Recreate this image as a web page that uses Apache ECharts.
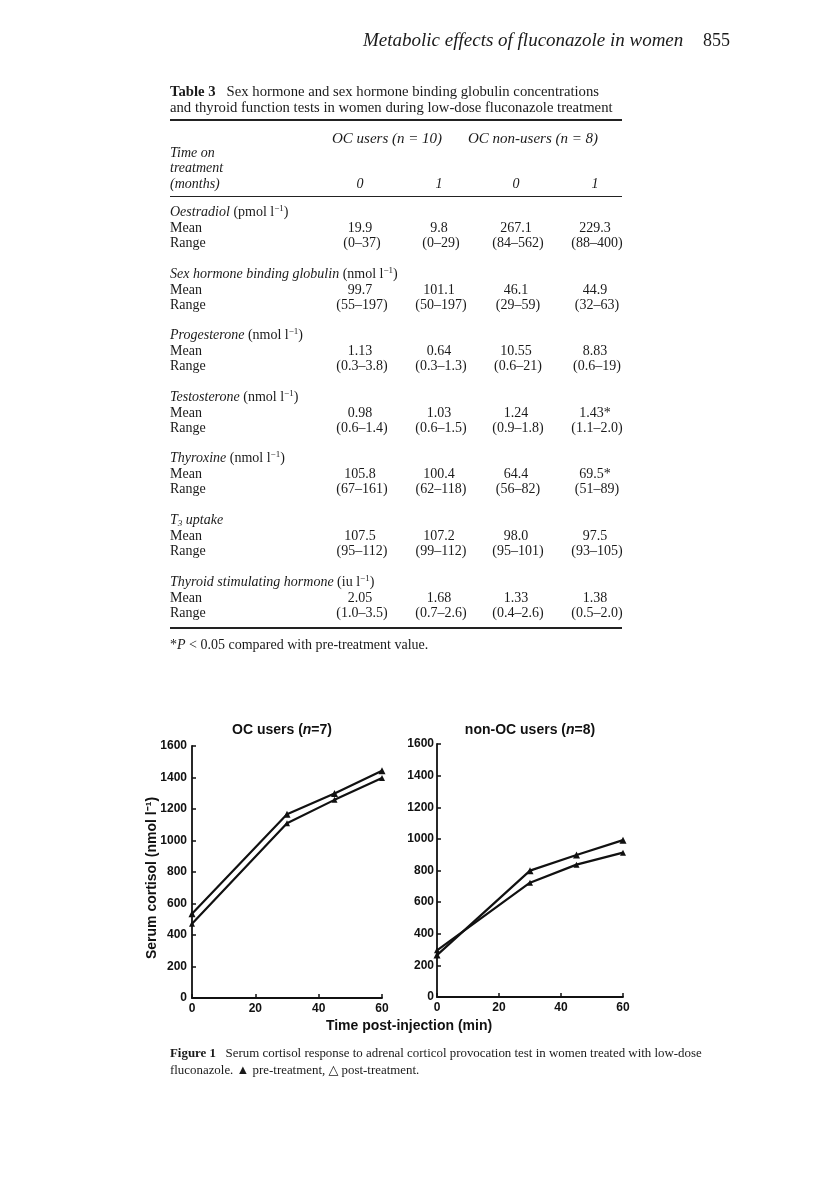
<!DOCTYPE html>
<html>
<head>
<meta charset="utf-8">
<script src="https://cdn.jsdelivr.net/npm/echarts@6/dist/echarts.min.js"></script>
<style>
html,body{margin:0;padding:0;background:#fff;}
#page{position:relative;width:816px;height:1179px;overflow:hidden;background:#fff;}
#chart{position:absolute;left:0;top:0;width:816px;height:1179px;}
.t{position:absolute;font-family:"Liberation Serif","DejaVu Serif",serif;font-size:14px;color:#1a1a1a;white-space:nowrap;line-height:16px;}
.i{font-style:italic;}
.c{transform:translateX(-50%);}
.rule{position:absolute;left:170px;width:452px;background:#222;}
sup{font-size:9px;vertical-align:5px;line-height:0;}
sub{font-size:9px;vertical-align:-2px;line-height:0;}
</style>
</head>
<body>
<div id="page">
<div id="chart"></div>
</div>
<script>
// ---- Figure data ----
const timeMin = [0, 30, 45, 60];
const ocUpper = [535, 1167, 1298, 1443];
const ocLower = [471, 1110, 1258, 1397];
const nonOcUpperEnd = [265, 799, 898, 992];
const nonOcLowerEnd = [295, 723, 837, 913];
const yTicks = [0, 200, 400, 600, 800, 1000, 1200, 1400, 1600];
const xTicks = [0, 20, 40, 60];

// ---- Table data ----
const tableSections = [
  {name: '<span class="i">Oestradiol</span> (pmol l<sup>−1</sup>)'},
  {name: '<span class="i">Sex hormone binding globulin</span> (nmol l<sup>−1</sup>)'},
  {name: '<span class="i">Progesterone</span> (nmol l<sup>−1</sup>)'},
  {name: '<span class="i">Testosterone</span> (nmol l<sup>−1</sup>)'},
  {name: '<span class="i">Thyroxine</span> (nmol l<sup>−1</sup>)'},
  {name: '<span class="i">T<sub>3</sub> uptake</span>'},
  {name: '<span class="i">Thyroid stimulating hormone</span> (iu l<sup>−1</sup>)'}
];
const tableMeans = [
  ['19.9', '9.8', '267.1', '229.3'],
  ['99.7', '101.1', '46.1', '44.9'],
  ['1.13', '0.64', '10.55', '8.83'],
  ['0.98', '1.03', '1.24', '1.43*'],
  ['105.8', '100.4', '64.4', '69.5*'],
  ['107.5', '107.2', '98.0', '97.5'],
  ['2.05', '1.68', '1.33', '1.38']
];
const tableRanges = [
  ['(0–37)', '(0–29)', '(84–562)', '(88–400)'],
  ['(55–197)', '(50–197)', '(29–59)', '(32–63)'],
  ['(0.3–3.8)', '(0.3–1.3)', '(0.6–21)', '(0.6–19)'],
  ['(0.6–1.4)', '(0.6–1.5)', '(0.9–1.8)', '(1.1–2.0)'],
  ['(67–161)', '(62–118)', '(56–82)', '(51–89)'],
  ['(95–112)', '(99–112)', '(95–101)', '(93–105)'],
  ['(1.0–3.5)', '(0.7–2.6)', '(0.4–2.6)', '(0.5–2.0)']
];
const colHeads = ['0', '1', '0', '1'];

// ---- Build page text ----
const page = document.getElementById('page');
function add(html, x, y, cls, extra) {
  const d = document.createElement('div');
  d.className = 't ' + (cls || '');
  d.innerHTML = html;
  d.style.left = x + 'px';
  d.style.top = (y - 8) + 'px';
  if (extra) Object.assign(d.style, extra);
  page.appendChild(d);
  return d;
}
function rule(y, h) {
  const r = document.createElement('div');
  r.className = 'rule';
  r.style.top = y + 'px';
  r.style.height = h + 'px';
  page.appendChild(r);
}
add('Metabolic effects of fluconazole in women', 363, 40, 'i', {fontSize: '19px'});
add('855', 703, 40, '', {fontSize: '18px'});
add('<b>Table 3</b>&nbsp;&nbsp; Sex hormone and sex hormone binding globulin concentrations', 170, 91, '', {fontSize: '14.7px'});
add('and thyroid function tests in women during low-dose fluconazole treatment', 170, 107, '', {fontSize: '14.7px'});
rule(119, 1.5);
add('OC users (n = 10)', 332, 138, 'i', {fontSize: '15px'});
add('OC non-users (n = 8)', 468, 138, 'i', {fontSize: '15px'});
add('Time on', 170, 153, 'i');
add('treatment', 170, 168, 'i');
add('(months)', 170, 184, 'i');
const colX = [360, 439, 516, 595];
colHeads.forEach((h, k) => add(h, colX[k], 184, 'i c'));
rule(196, 1);
tableSections.forEach((s, j) => {
  const y0 = 212 + j * 61.6;
  add(s.name, 170, y0);
  add('Mean', 170, y0 + 16);
  add('Range', 170, y0 + 31);
  tableMeans[j].forEach((v, k) => add(v, colX[k], y0 + 16, 'c'));
  tableRanges[j].forEach((v, k) => add(v, colX[k] + 2, y0 + 31, 'c'));
});
rule(627, 1.5);
add('*<span class="i">P</span> &lt; 0.05 compared with pre-treatment value.', 170, 645);
add('<b>Figure 1</b>&nbsp;&nbsp; Serum cortisol response to adrenal corticol provocation test in women treated with low-dose', 170, 1053, '', {fontSize: '12.9px'});
add('fluconazole. ▲ pre-treatment, △ post-treatment.', 170, 1070, '', {fontSize: '12.9px'});

// ---- Chart ----
const chart = echarts.init(document.getElementById('chart'), null, {renderer: 'canvas'});
const sansBold = {fontFamily: 'Liberation Sans, Arial, sans-serif', fontWeight: 'bold', color: '#111'};
function xAx(idx) {
  return {
    gridIndex: idx, type: 'value', min: xTicks[0], max: xTicks[xTicks.length - 1], interval: 20,
    axisLine: {lineStyle: {color: '#111', width: 1.8}},
    axisTick: {inside: true, length: 4, lineStyle: {color: '#111', width: 1.5}},
    axisLabel: Object.assign({fontSize: 12, margin: 5, formatter: v => String(v)}, sansBold),
    splitLine: {show: false}
  };
}
function yAx(idx, margin) {
  return {
    gridIndex: idx, type: 'value', min: yTicks[0], max: yTicks[yTicks.length - 1], interval: 200,
    axisLine: {show: true, lineStyle: {color: '#111', width: 1.8}},
    axisTick: {show: true, inside: true, length: 4, lineStyle: {color: '#111', width: 1.5}},
    axisLabel: Object.assign({fontSize: 12, margin: margin, formatter: v => String(v)}, sansBold),
    splitLine: {show: false}
  };
}
function ser(idx, vals, big) {
  return {
    type: 'line', xAxisIndex: idx, yAxisIndex: idx,
    data: timeMin.map((t, k) => [t, vals[k]]),
    symbol: 'triangle', symbolSize: big ? 7 : 6,
    showSymbol: true,
    lineStyle: {color: '#111', width: 2.2},
    itemStyle: {color: '#111'},
    animation: false
  };
}
chart.setOption({
  animation: false,
  grid: [
    {left: 192, top: 746, width: 190, height: 252},
    {left: 437, top: 744, width: 186, height: 253}
  ],
  xAxis: [xAx(0), xAx(1)],
  yAxis: [yAx(0, 5), yAx(1, 3)],
  series: [
    ser(0, ocUpper, true), ser(0, ocLower, false),
    ser(1, nonOcUpperEnd, true), ser(1, nonOcLowerEnd, false)
  ],
  graphic: [
    {type: 'text', x: 282, y: 730, style: {text: '{a|OC users (}{b|n}{a|=7)}', align: 'center', textAlign: 'center', verticalAlign: 'middle', textVerticalAlign: 'middle',
      rich: {a: {fontSize: 14, fontWeight: 'bold', fontFamily: 'Liberation Sans, Arial', fill: '#111', color: '#111'}, b: {fontSize: 14, fontWeight: 'bold', fontStyle: 'italic', fontFamily: 'Liberation Sans, Arial', fill: '#111', color: '#111'}}}},
    {type: 'text', x: 530, y: 730, style: {text: '{a|non-OC users (}{b|n}{a|=8)}', align: 'center', textAlign: 'center', verticalAlign: 'middle', textVerticalAlign: 'middle',
      rich: {a: {fontSize: 14, fontWeight: 'bold', fontFamily: 'Liberation Sans, Arial', fill: '#111', color: '#111'}, b: {fontSize: 14, fontWeight: 'bold', fontStyle: 'italic', fontFamily: 'Liberation Sans, Arial', fill: '#111', color: '#111'}}}},
    {type: 'text', x: 152, y: 878, rotation: Math.PI / 2, style: {text: 'Serum cortisol (nmol l⁻¹)', align: 'center', textAlign: 'center', verticalAlign: 'middle', textVerticalAlign: 'middle',
      font: 'bold 14px Liberation Sans, Arial', fill: '#111'}},
    {type: 'text', x: 409, y: 1026, style: {text: 'Time post-injection (min)', align: 'center', textAlign: 'center', verticalAlign: 'middle', textVerticalAlign: 'middle',
      font: 'bold 14px Liberation Sans, Arial', fill: '#111'}}
  ]
});
</script>
</body>
</html>
